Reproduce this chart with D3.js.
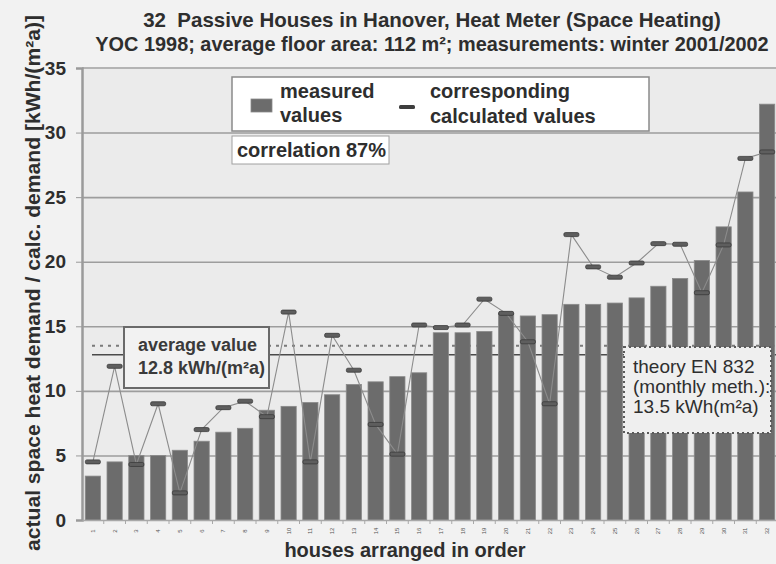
<!DOCTYPE html>
<html>
<head>
<meta charset="utf-8">
<script src="https://cdn.jsdelivr.net/npm/d3@7"></script>
<style>
  body { margin: 0; background: #f2f2f2; }
  svg { display: block; font-family: "Liberation Sans", Arial, sans-serif; }
</style>
</head>
<body>
<svg id="svg" width="776" height="564"></svg>
<script>
// houses 1..32, sorted by measured value
var houses = d3.range(1, 33);
var measured = [3.4, 4.5, 5.0, 5.0, 5.4, 6.1, 6.8, 7.1, 8.5, 8.8, 9.1, 9.7, 10.5, 10.7, 11.1, 11.4,
                14.5, 14.5, 14.6, 16.0, 15.8, 15.9, 16.7, 16.7, 16.8, 17.2, 18.1, 18.7, 20.1, 22.7, 25.4, 32.2];
var calculated = [4.5, 11.9, 4.3, 9.0, 2.1, 7.0, 8.7, 9.2, 8.0, 16.1, 4.5, 14.3, 11.6, 7.4, 5.1, 15.1,
                  14.9, 15.1, 17.1, 16.0, 13.8, 9.0, 22.1, 19.6, 18.8, 19.9, 21.4, 21.35, 17.6, 21.3, 28.0, 28.5];
var yTicks = [0, 5, 10, 15, 20, 25, 30, 35];
var averageValue = 12.8;
var theoryValue = 13.5;

var svg = d3.select("#svg");
// careful: "top" is taken by window.top, so plot edges get their own names
var plotLeft = 82, plotRight = 778, plotTop = 68, plotBottom = 520;
var textCol = "#2e2e2e";

var x = d3.scaleBand().domain(houses).range([plotLeft, plotRight]).paddingInner(0.3).paddingOuter(0.15);
var y = d3.scaleLinear().domain([0, 35]).range([plotBottom, plotTop]);

// plot background
svg.append("rect")
    .attr("x", plotLeft).attr("y", plotTop)
    .attr("width", plotRight - plotLeft).attr("height", plotBottom - plotTop)
    .style("fill", "#ebebeb");
svg.append("line")
    .attr("x1", plotLeft).attr("x2", plotRight).attr("y1", plotTop).attr("y2", plotTop)
    .style("stroke", "#b4b4b4").style("stroke-width", 2);

// gridlines
var grid = svg.append("g")
    .attr("transform", "translate(" + plotLeft + ",0)")
    .call(d3.axisLeft(y).tickValues(yTicks.slice(1, -1)).tickSize(-(plotRight - plotLeft)).tickFormat(""));
grid.select(".domain").remove();
grid.selectAll("line").style("stroke", "#9d9d9d").style("stroke-width", 1.6);

// average / theory reference lines
svg.append("line")
    .attr("x1", 92).attr("x2", plotRight).attr("y1", y(theoryValue)).attr("y2", y(theoryValue))
    .style("stroke", "#7a7a7a").style("stroke-width", 2).style("stroke-dasharray", "3,5");
svg.append("line")
    .attr("x1", 92).attr("x2", plotRight).attr("y1", y(averageValue)).attr("y2", y(averageValue))
    .style("stroke", "#4a4a4a").style("stroke-width", 1.6);

// bars
svg.selectAll(".bar")
    .data(measured)
    .enter()
    .append("rect")
    .attr("class", "bar")
    .attr("x", function(d, i) { return x(houses[i]); })
    .attr("y", function(d) { return y(d); })
    .attr("width", x.bandwidth())
    .attr("height", function(d) { return plotBottom - y(d); })
    .style("fill", "#6c6c6c")
    .style("stroke", "#8a8a8a")
    .style("stroke-width", 0.8);

// calculated values: thin line + dash markers
var line = d3.line()
    .x(function(d, i) { return x(houses[i]) + x.bandwidth() / 2; })
    .y(function(d) { return y(d); });
svg.append("path")
    .datum(calculated)
    .attr("d", line)
    .style("fill", "none")
    .style("stroke", "#8c8c8c")
    .style("stroke-width", 1.1);
svg.selectAll(".calc")
    .data(calculated)
    .enter()
    .append("rect")
    .attr("class", "calc")
    .attr("x", function(d, i) { return x(houses[i]) + x.bandwidth() / 2 - 7.5; })
    .attr("y", function(d) { return y(d) - 2; })
    .attr("width", 15).attr("height", 4)
    .attr("rx", 1.5)
    .style("fill", "#5e5e5e")
    .style("stroke", "#3a3a3a")
    .style("stroke-width", 0.8);

// y axis
var yAxis = svg.append("g")
    .attr("transform", "translate(" + plotLeft + ",0)")
    .call(d3.axisLeft(y).tickValues(yTicks).tickSize(6).tickPadding(10));
yAxis.select(".domain").style("stroke", "#9a9a9a").style("stroke-width", 2.5);
yAxis.selectAll(".tick line").style("stroke", "#9a9a9a");
yAxis.selectAll("text")
    .style("font-size", "19px").style("font-weight", "bold").style("fill", textCol)
    .style("font-family", "'Liberation Sans', Arial, sans-serif");

// x axis with tiny rotated house numbers
var xAxis = svg.append("g")
    .attr("transform", "translate(0," + plotBottom + ")")
    .call(d3.axisBottom(x).tickSize(0).tickPadding(0));
xAxis.select(".domain").style("stroke", "#a8a8a8").style("stroke-width", 1.5);
xAxis.selectAll("text")
    .attr("transform", "translate(0,11)rotate(-90)")
    .attr("dy", "0.35em")
    .attr("y", 0)
    .attr("x", 0)
    .attr("text-anchor", "middle")
    .style("font-size", "6px").style("fill", "#555")
    .style("font-family", "'Liberation Sans', Arial, sans-serif");
svg.selectAll(".xsep")
    .data(houses.slice(0, -1))
    .enter()
    .append("line")
    .attr("x1", function(d) { return x(d) + x.step() * 0.85; })
    .attr("x2", function(d) { return x(d) + x.step() * 0.85; })
    .attr("y1", plotBottom).attr("y2", plotBottom + 4)
    .style("stroke", "#a8a8a8");

// titles
var title = svg.append("g")
    .style("font-weight", "bold").style("fill", textCol)
    .attr("text-anchor", "middle");
title.append("text").attr("x", 432).attr("y", 27)
    .style("font-size", "20.5px")
    .text("32\u00a0 Passive Houses in Hanover, Heat Meter (Space Heating)");
// second line nearly touches the right edge in the original
title.append("text").attr("x", 432).attr("y", 51)
    .style("font-size", "19.9px")
    .text("YOC 1998; average floor area: 112 m\u00b2; measurements: winter 2001/2002");

svg.append("text")
    .attr("transform", "translate(40,283)rotate(-90)")
    .attr("text-anchor", "middle")
    .attr("textLength", 536).attr("lengthAdjust", "spacingAndGlyphs")
    .style("font-size", "20px").style("font-weight", "bold").style("fill", textCol)
    .text("actual space heat demand / calc. demand [kWh/(m\u00b2a)]");

svg.append("text")
    .attr("x", 405).attr("y", 557)
    .attr("text-anchor", "middle")
    .style("font-size", "20px").style("font-weight", "bold").style("fill", textCol)
    .text("houses arranged in order");

// legend
var legend = svg.append("g")
    .style("font-size", "20px").style("font-weight", "bold").style("fill", textCol);
legend.append("rect")
    .attr("x", 232).attr("y", 77).attr("width", 417).attr("height", 54)
    .style("fill", "#fff").style("stroke", "#8a8a8a").style("stroke-width", 1.5);
legend.append("rect")
    .attr("x", 251).attr("y", 99).attr("width", 21).attr("height", 13)
    .style("fill", "#6c6c6c").style("stroke", "#8a8a8a").style("stroke-width", 0.8);
legend.append("text").attr("x", 280).attr("y", 98).text("measured");
legend.append("text").attr("x", 280).attr("y", 122).text("values");
legend.append("rect")
    .attr("x", 399).attr("y", 105).attr("width", 16).attr("height", 4).attr("rx", 1.5)
    .style("fill", "#3e3e3e");
legend.append("text").attr("x", 430).attr("y", 98).text("corresponding");
legend.append("text").attr("x", 430).attr("y", 123).text("calculated values");

// correlation note
svg.append("rect")
    .attr("x", 232).attr("y", 136).attr("width", 157).attr("height", 28)
    .style("fill", "#fff").style("stroke", "#a0a0a0").style("stroke-width", 1);
svg.append("text")
    .attr("x", 237).attr("y", 157)
    .style("font-size", "20px").style("font-weight", "bold").style("fill", textCol)
    .text("correlation 87%");

// average value box
svg.append("rect")
    .attr("x", 124).attr("y", 327).attr("width", 145).attr("height", 61)
    .style("fill", "#f2f2f2").style("stroke", "#6a6a6a").style("stroke-width", 2);
var avg = svg.append("g")
    .style("font-size", "18px").style("font-weight", "bold").style("fill", "#3a3a3a");
avg.append("text").attr("x", 138).attr("y", 351).text("average value");
avg.append("text").attr("x", 138).attr("y", 374).text("12.8 kWh/(m\u00b2a)");

// theory box
svg.append("rect")
    .attr("x", 624).attr("y", 347).attr("width", 147).attr("height", 86)
    .style("fill", "#efefef").style("stroke", "#5a5a5a").style("stroke-width", 2)
    .style("stroke-dasharray", "2,3");
var theory = svg.append("g")
    .style("font-size", "19px").style("fill", "#2e2e2e");
theory.append("text").attr("x", 633).attr("y", 373).text("theory EN 832");
theory.append("text").attr("x", 633).attr("y", 393).text("(monthly meth.):");
theory.append("text").attr("x", 633).attr("y", 413).text("13.5 kWh(m\u00b2a)");
</script>
</body>
</html>
